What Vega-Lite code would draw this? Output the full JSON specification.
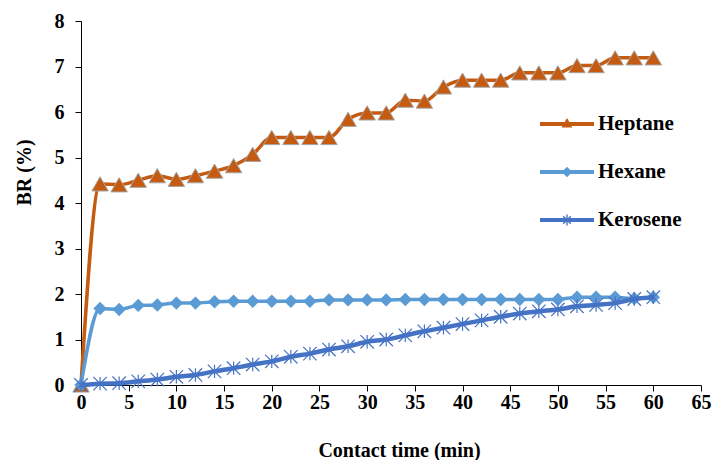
{
  "$schema": "https://vega.github.io/schema/vega-lite/v6.json",
  "width": 620,
  "height": 364,
  "autosize": {"type": "none"},
  "padding": {"left": 81, "top": 21, "right": 12, "bottom": 75},
  "background": "white",
  "config": {
    "font": "Liberation Serif",
    "view": {"stroke": null},
    "axis": {
      "grid": false,
      "domainColor": "#000000",
      "domainWidth": 1,
      "tickColor": "#000000",
      "tickSize": 6,
      "labelFont": "Liberation Serif",
      "labelFontWeight": "bold",
      "labelFontSize": 20,
      "labelColor": "#000000",
      "labelFlush": false,
      "titleFont": "Liberation Serif",
      "titleFontWeight": "bold",
      "titleFontSize": 20,
      "titleColor": "#000000"
    },
    "legend": {
      "labelFont": "Liberation Serif",
      "labelFontWeight": "bold",
      "labelFontSize": 21,
      "labelColor": "#000000"
    }
  },
  "data": {
    "values": [
      {"t": 0, "s": "Heptane", "v": 0}, {"t": 2, "s": "Heptane", "v": 4.42}, {"t": 4, "s": "Heptane", "v": 4.4}, {"t": 6, "s": "Heptane", "v": 4.5}, {"t": 8, "s": "Heptane", "v": 4.6}, {"t": 10, "s": "Heptane", "v": 4.52}, {"t": 12, "s": "Heptane", "v": 4.6}, {"t": 14, "s": "Heptane", "v": 4.7}, {"t": 16, "s": "Heptane", "v": 4.82}, {"t": 18, "s": "Heptane", "v": 5.07}, {"t": 20, "s": "Heptane", "v": 5.44}, {"t": 22, "s": "Heptane", "v": 5.44}, {"t": 24, "s": "Heptane", "v": 5.44}, {"t": 26, "s": "Heptane", "v": 5.44}, {"t": 28, "s": "Heptane", "v": 5.84}, {"t": 30, "s": "Heptane", "v": 5.98}, {"t": 32, "s": "Heptane", "v": 5.98}, {"t": 34, "s": "Heptane", "v": 6.26}, {"t": 36, "s": "Heptane", "v": 6.24}, {"t": 38, "s": "Heptane", "v": 6.55}, {"t": 40, "s": "Heptane", "v": 6.7}, {"t": 42, "s": "Heptane", "v": 6.7}, {"t": 44, "s": "Heptane", "v": 6.7}, {"t": 46, "s": "Heptane", "v": 6.86}, {"t": 48, "s": "Heptane", "v": 6.86}, {"t": 50, "s": "Heptane", "v": 6.86}, {"t": 52, "s": "Heptane", "v": 7.02}, {"t": 54, "s": "Heptane", "v": 7.02}, {"t": 56, "s": "Heptane", "v": 7.19}, {"t": 58, "s": "Heptane", "v": 7.19}, {"t": 60, "s": "Heptane", "v": 7.19},
      {"t": 0, "s": "Hexane", "v": 0}, {"t": 2, "s": "Hexane", "v": 1.68}, {"t": 4, "s": "Hexane", "v": 1.66}, {"t": 6, "s": "Hexane", "v": 1.75}, {"t": 8, "s": "Hexane", "v": 1.76}, {"t": 10, "s": "Hexane", "v": 1.8}, {"t": 12, "s": "Hexane", "v": 1.8}, {"t": 14, "s": "Hexane", "v": 1.83}, {"t": 16, "s": "Hexane", "v": 1.84}, {"t": 18, "s": "Hexane", "v": 1.84}, {"t": 20, "s": "Hexane", "v": 1.84}, {"t": 22, "s": "Hexane", "v": 1.84}, {"t": 24, "s": "Hexane", "v": 1.84}, {"t": 26, "s": "Hexane", "v": 1.87}, {"t": 28, "s": "Hexane", "v": 1.87}, {"t": 30, "s": "Hexane", "v": 1.87}, {"t": 32, "s": "Hexane", "v": 1.87}, {"t": 34, "s": "Hexane", "v": 1.88}, {"t": 36, "s": "Hexane", "v": 1.88}, {"t": 38, "s": "Hexane", "v": 1.88}, {"t": 40, "s": "Hexane", "v": 1.88}, {"t": 42, "s": "Hexane", "v": 1.88}, {"t": 44, "s": "Hexane", "v": 1.88}, {"t": 46, "s": "Hexane", "v": 1.88}, {"t": 48, "s": "Hexane", "v": 1.88}, {"t": 50, "s": "Hexane", "v": 1.88}, {"t": 52, "s": "Hexane", "v": 1.93}, {"t": 54, "s": "Hexane", "v": 1.93}, {"t": 56, "s": "Hexane", "v": 1.93}, {"t": 58, "s": "Hexane", "v": 1.9}, {"t": 60, "s": "Hexane", "v": 1.93},
      {"t": 0, "s": "Kerosene", "v": 0}, {"t": 2, "s": "Kerosene", "v": 0.03}, {"t": 4, "s": "Kerosene", "v": 0.04}, {"t": 6, "s": "Kerosene", "v": 0.08}, {"t": 8, "s": "Kerosene", "v": 0.12}, {"t": 10, "s": "Kerosene", "v": 0.18}, {"t": 12, "s": "Kerosene", "v": 0.22}, {"t": 14, "s": "Kerosene", "v": 0.3}, {"t": 16, "s": "Kerosene", "v": 0.37}, {"t": 18, "s": "Kerosene", "v": 0.45}, {"t": 20, "s": "Kerosene", "v": 0.52}, {"t": 22, "s": "Kerosene", "v": 0.62}, {"t": 24, "s": "Kerosene", "v": 0.69}, {"t": 26, "s": "Kerosene", "v": 0.78}, {"t": 28, "s": "Kerosene", "v": 0.85}, {"t": 30, "s": "Kerosene", "v": 0.95}, {"t": 32, "s": "Kerosene", "v": 1.0}, {"t": 34, "s": "Kerosene", "v": 1.09}, {"t": 36, "s": "Kerosene", "v": 1.18}, {"t": 38, "s": "Kerosene", "v": 1.26}, {"t": 40, "s": "Kerosene", "v": 1.34}, {"t": 42, "s": "Kerosene", "v": 1.42}, {"t": 44, "s": "Kerosene", "v": 1.5}, {"t": 46, "s": "Kerosene", "v": 1.57}, {"t": 48, "s": "Kerosene", "v": 1.62}, {"t": 50, "s": "Kerosene", "v": 1.66}, {"t": 52, "s": "Kerosene", "v": 1.73}, {"t": 54, "s": "Kerosene", "v": 1.76}, {"t": 56, "s": "Kerosene", "v": 1.8}, {"t": 58, "s": "Kerosene", "v": 1.89}, {"t": 60, "s": "Kerosene", "v": 1.93}
    ]
  },
  "encoding": {
    "x": {
      "field": "t", "type": "quantitative",
      "scale": {"domain": [0, 65], "nice": false, "zero": false},
      "axis": {"values": [0,5,10,15,20,25,30,35,40,45,50,55,60,65], "title": "Contact time (min)", "labelFlush": false, "labelFont": "Liberation Serif", "labelPadding": 1, "titleX": 318, "titleY": 65, "titleBaseline": "middle", "titleAlign": "center"}
    },
    "y": {
      "field": "v", "type": "quantitative",
      "scale": {"domain": [0, 8], "nice": false},
      "axis": {"values": [0,1,2,3,4,5,6,7,8], "title": "BR (%)", "labelFont": "Liberation Serif", "labelPadding": 11, "titleX": -57, "titleY": 151, "titleAngle": 270, "titleBaseline": "middle", "titleAlign": "center"}
    }
  },
  "layer": [
    {
      "transform": [{"filter": "datum.s === 'Heptane'"}],
      "mark": {"type": "line", "strokeWidth": 3.5, "interpolate": "monotone"},
      "encoding": {
        "color": {
          "field": "s", "type": "nominal",
          "scale": {"domain": ["Heptane", "Hexane", "Kerosene"], "range": ["#C55A11", "#5B9BD5", "#4472C4"]},
          "legend": {
            "title": null,
            "orient": "none",
            "legendX": 459,
            "legendY": 76,
            "symbolSize": 2916,
            "labelOffset": 4,
            "rowPadding": 11,
            "labelFont": "Liberation Serif",
            "labelFontWeight": "bold",
            "labelFontSize": 21,
            "encode": {
              "symbols": {
                "update": {
                  "shape": {"signal": "datum.value === 'Heptane' ? 'M-1,-0.075L1,-0.075L1,0.075L-1,0.075ZM0,-0.22L0.2,0.13L-0.2,0.13Z' : datum.value === 'Hexane' ? 'M-1,-0.07L1,-0.07L1,0.07L-1,0.07ZM0,-0.19L0.19,0L0,0.19L-0.19,0Z' : 'M-1,-0.075L1,-0.075L1,0.075L-1,0.075ZM-0.025,-0.2L0.025,-0.2L0.025,0.2L-0.025,0.2ZM-0.124,-0.159L0.159,0.124L0.124,0.159L-0.159,-0.124ZM-0.159,0.124L0.124,-0.159L0.159,-0.124L-0.124,0.159Z'"},
                  "fill": {"signal": "datum.value === 'Heptane' ? '#C55A11' : datum.value === 'Hexane' ? '#5B9BD5' : '#4472C4'"},
                  "stroke": {"value": "transparent"},
                  "strokeWidth": {"value": 0},
                  "opacity": {"value": 1}
                }
              }
            }
          }
        }
      }
    },
    {
      "transform": [{"filter": "datum.s === 'Heptane'"}],
      "mark": {"type": "point", "shape": "triangle-up", "size": 270, "filled": true, "fill": "#C55A11", "stroke": "#A5A5A5", "strokeWidth": 1, "opacity": 1}
    },
    {
      "transform": [{"filter": "datum.s === 'Hexane'"}],
      "mark": {"type": "line", "strokeWidth": 3.5, "interpolate": "monotone"},
      "encoding": {"color": {"field": "s", "type": "nominal"}}
    },
    {
      "transform": [{"filter": "datum.s === 'Hexane'"}],
      "mark": {"type": "point", "shape": "diamond", "size": 180, "filled": true, "fill": "#5B9BD5", "strokeWidth": 0, "opacity": 1}
    },
    {
      "transform": [{"filter": "datum.s === 'Kerosene'"}],
      "mark": {"type": "line", "strokeWidth": 4.5, "interpolate": "monotone"},
      "encoding": {"color": {"field": "s", "type": "nominal"}}
    },
    {
      "transform": [{"filter": "datum.s === 'Kerosene'"}],
      "mark": {"type": "point", "shape": "M0,-1L0,1M-1,-1L1,1M-1,1L1,-1", "size": 180, "filled": false, "stroke": "#4472C4", "strokeWidth": 1.2, "opacity": 1}
    }
  ]
}
